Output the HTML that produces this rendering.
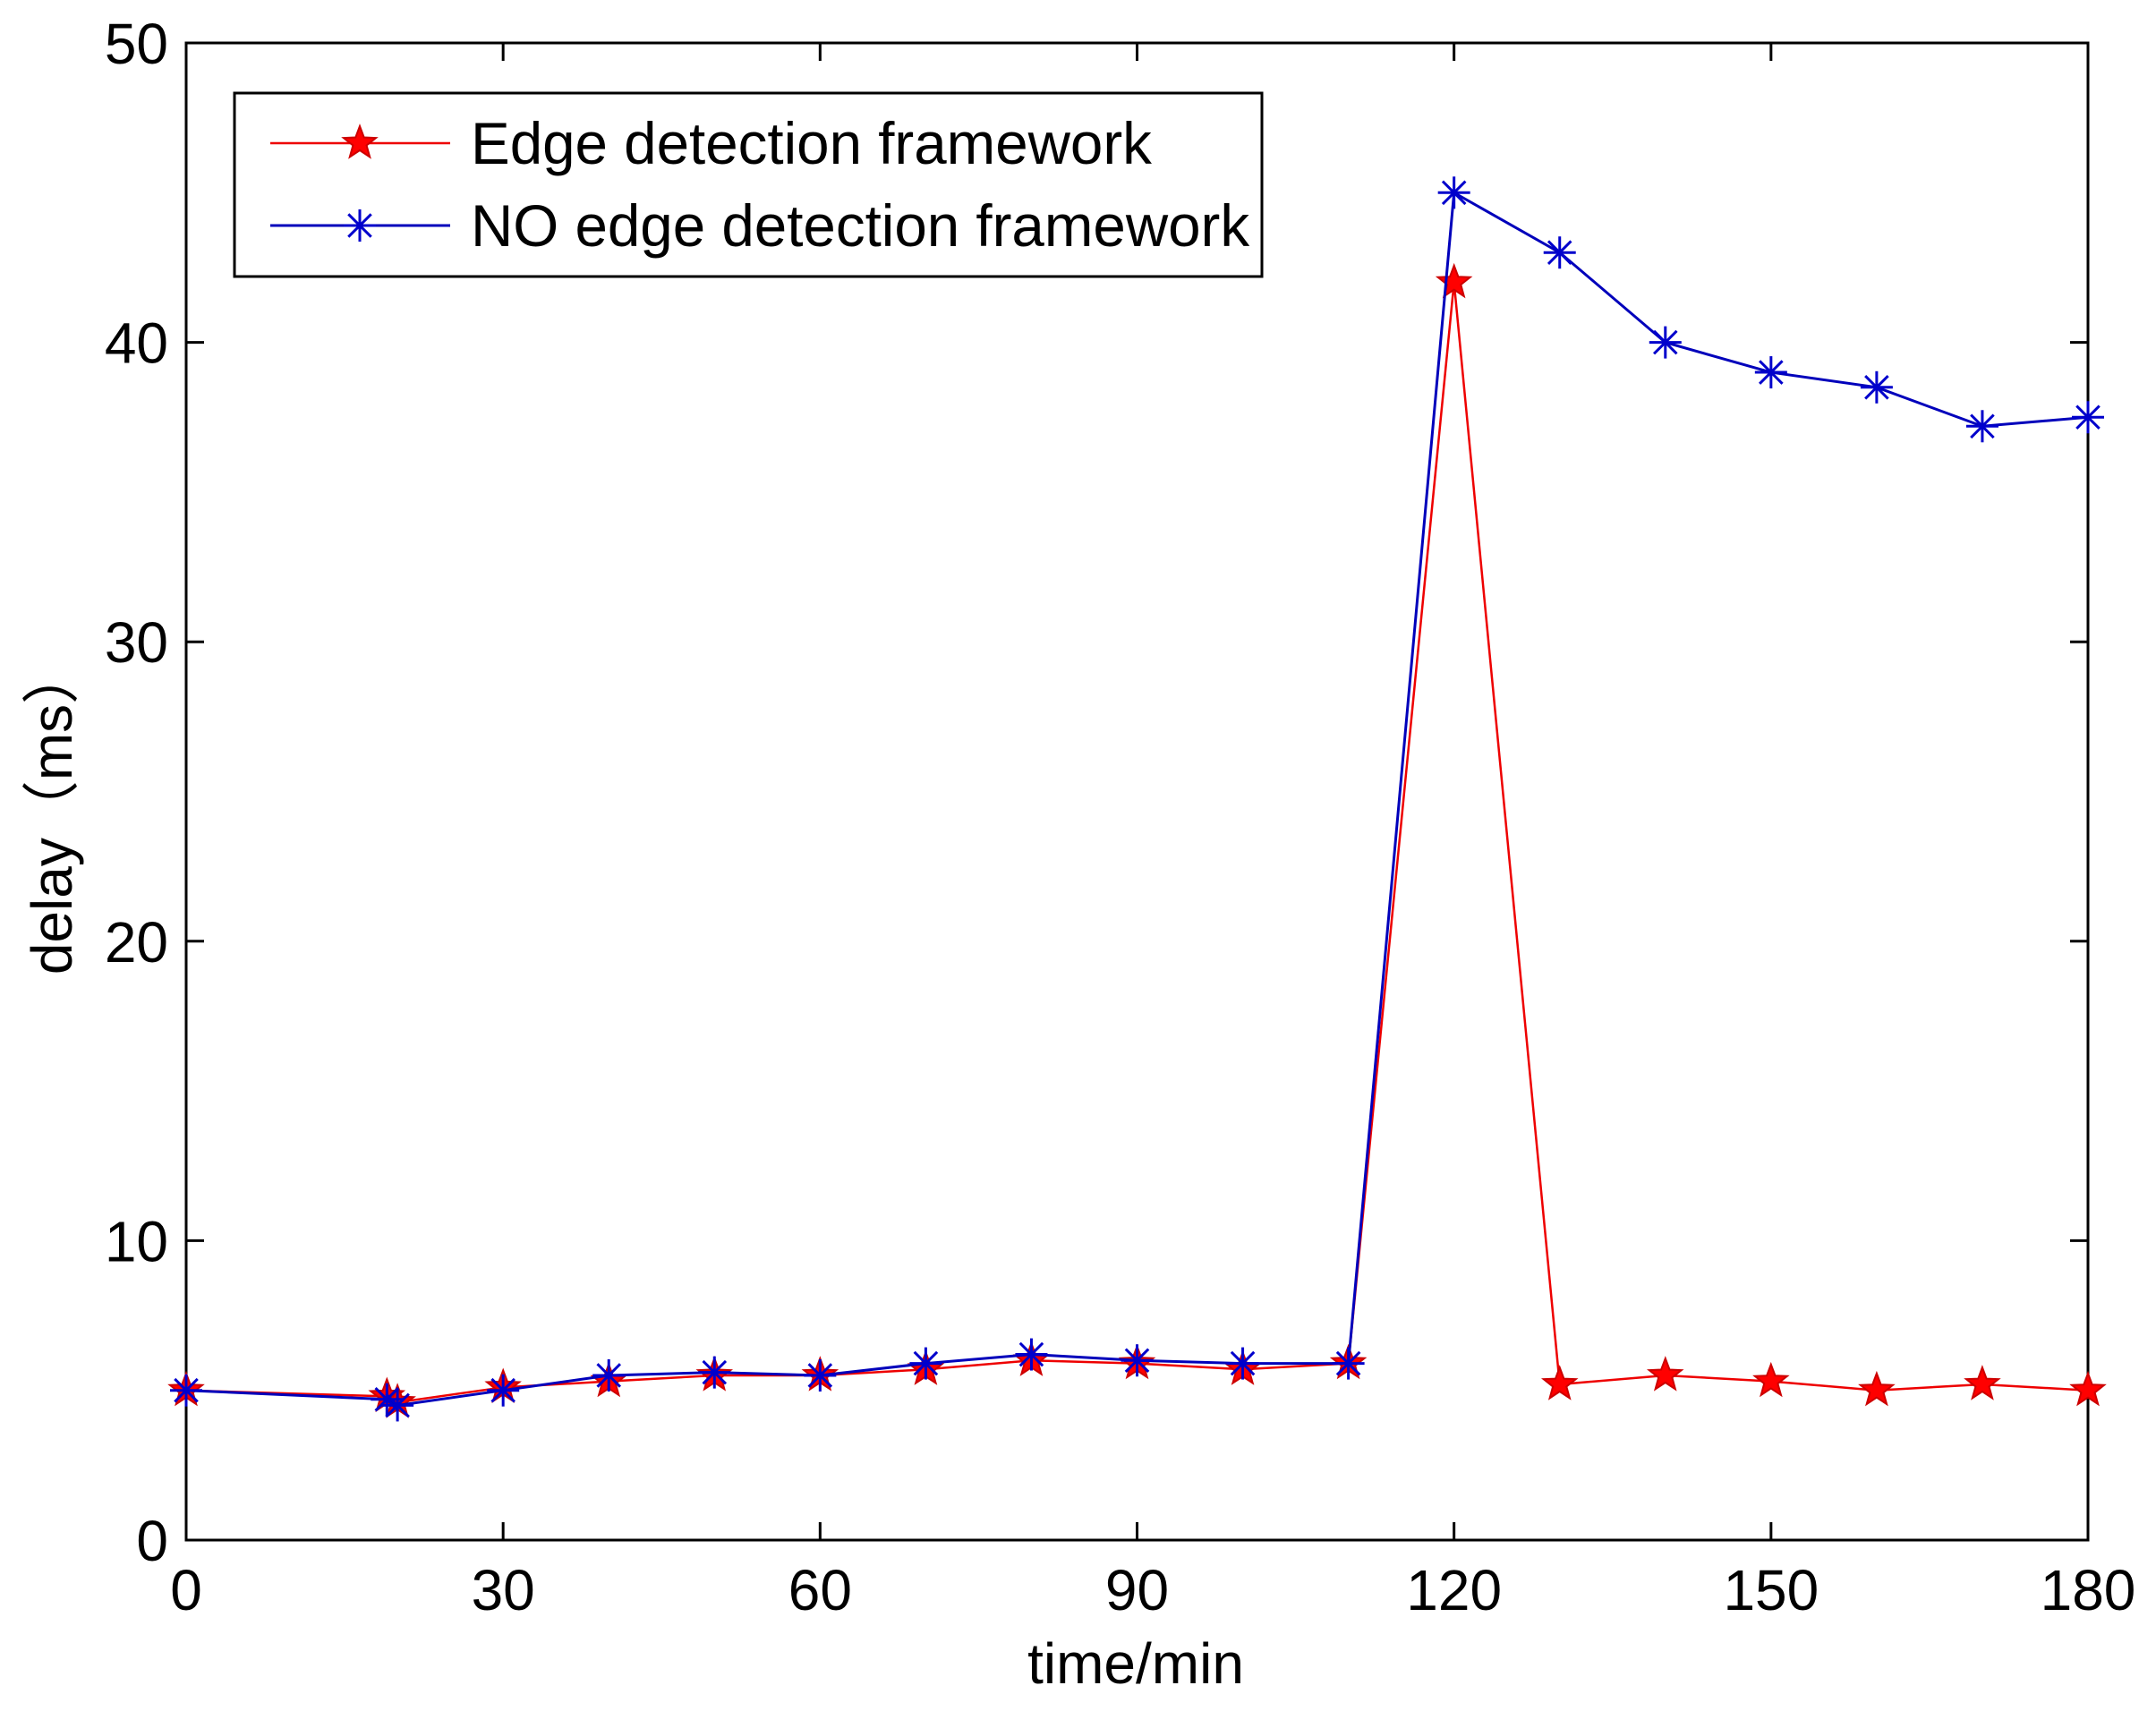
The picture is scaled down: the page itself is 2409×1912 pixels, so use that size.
<!DOCTYPE html>
<html><head><meta charset="utf-8"><style>
html,body{margin:0;padding:0;background:#fff;}
svg text{font-family:"Liberation Sans",Arial,"Noto Sans CJK SC",sans-serif;fill:#000;}
</style></head><body>
<svg id="s" width="2409" height="1907" viewBox="0 0 2409 1907" xmlns="http://www.w3.org/2000/svg">
<rect width="2409" height="1907" fill="#fff"/>
<g id="g"></g>
</svg>
<script>
const L=208,R=2333,T=48,B=1721;
const X=v=>L+(R-L)*v/180, Y=v=>B-(B-T)*v/50;
let h='';
h+=`<rect x="${L}" y="${T}" width="${R-L}" height="${B-T}" fill="none" stroke="#000" stroke-width="3"/>`;
for(let v=0;v<=180;v+=30){const x=X(v);
 h+=`<line x1="${x}" y1="${B}" x2="${x}" y2="${B-20}" stroke="#000" stroke-width="3"/><line x1="${x}" y1="${T}" x2="${x}" y2="${T+20}" stroke="#000" stroke-width="3"/>`;
 h+=`<text x="${x}" y="${B+78}" font-size="64" text-anchor="middle">${v}</text>`;}
for(let v=0;v<=50;v+=10){const y=Y(v);
 h+=`<line x1="${L}" y1="${y}" x2="${L+20}" y2="${y}" stroke="#000" stroke-width="3"/><line x1="${R}" y1="${y}" x2="${R-20}" y2="${y}" stroke="#000" stroke-width="3"/>`;
 h+=`<text x="${L-20}" y="${y+23}" font-size="64" text-anchor="end">${v}</text>`;}
h+=`<text x="1269" y="1881" font-size="64" text-anchor="middle">time/min</text>`;
h+=`<text transform="translate(80,906) rotate(-90)" font-size="64" text-anchor="middle">delay（ms）</text>`;
const xs=[0,19,20,30,40,50,60,70,80,90,100,110,120,130,140,150,160,170,180];
const red=[5,4.8,4.6,5.1,5.3,5.5,5.5,5.7,6.0,5.9,5.7,5.9,42,5.2,5.5,5.3,5.0,5.2,5.0];
const blue=[5,4.7,4.5,5,5.5,5.6,5.5,5.9,6.2,6.0,5.9,5.9,45,43,40,39,38.5,37.2,37.5];
function star(cx,cy,r){let p=[];for(let i=0;i<10;i++){const a=-Math.PI/2+i*Math.PI/5;const rr=i%2?r*0.42:r;p.push((cx+rr*Math.cos(a)).toFixed(1)+','+(cy+rr*Math.sin(a)).toFixed(1));}
 return `<polygon points="${p.join(' ')}" fill="#f00" stroke="#c00" stroke-width="2"/>`;}
function ast(cx,cy,r){let s='';for(let i=0;i<4;i++){const a=i*Math.PI/4;s+=`<line x1="${cx-r*Math.cos(a)}" y1="${cy-r*Math.sin(a)}" x2="${cx+r*Math.cos(a)}" y2="${cy+r*Math.sin(a)}" stroke="#00c" stroke-width="3"/>`;}return s;}
h+=`<polyline points="${xs.map((x,i)=>X(x)+','+Y(red[i])).join(' ')}" fill="none" stroke="#e00" stroke-width="2.5"/>`;
xs.forEach((x,i)=>h+=star(X(x),Y(red[i]),19));
h+=`<polyline points="${xs.map((x,i)=>X(x)+','+Y(blue[i])).join(' ')}" fill="none" stroke="#00b" stroke-width="3"/>`;
xs.forEach((x,i)=>h+=ast(X(x),Y(blue[i]),18));
h+=`<rect x="262" y="104" width="1148" height="205" fill="#fff" stroke="#000" stroke-width="3"/>`;
h+=`<line x1="302" y1="160" x2="503" y2="160" stroke="#e00" stroke-width="2.5"/>`+star(402,160,19);
h+=`<text x="526" y="183" font-size="65.5">Edge detection framework</text>`;
h+=`<line x1="302" y1="252" x2="503" y2="252" stroke="#00b" stroke-width="3"/>`+ast(402,252,18);
h+=`<text x="526" y="275" font-size="65.5">NO edge detection framework</text>`;
document.getElementById('g').innerHTML=h;
</script>
</body></html>
